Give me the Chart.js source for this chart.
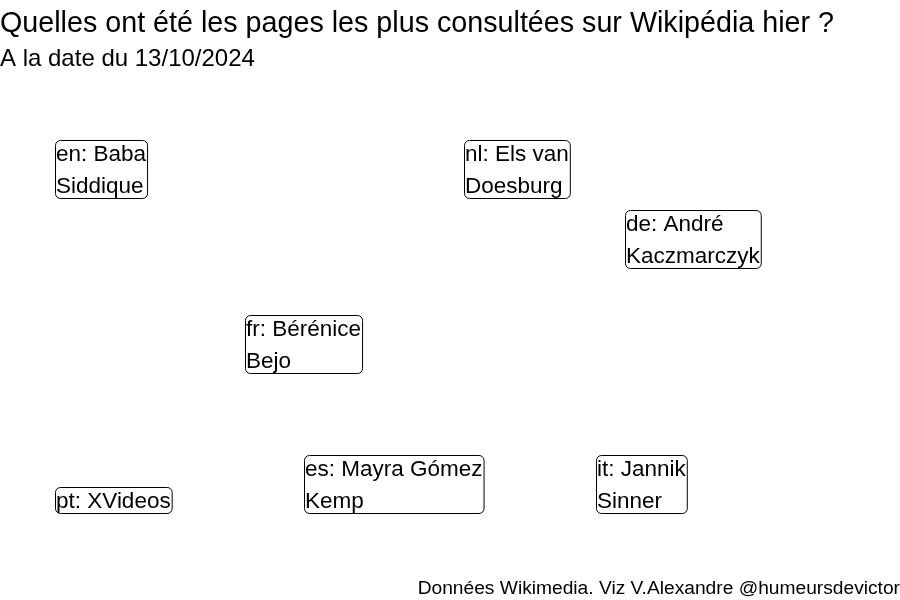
<!DOCTYPE html>
<html>
<head>
<meta charset="utf-8">
<script src="https://cdn.jsdelivr.net/npm/chart.js@4"></script>
<style>
  body { margin: 0; background: #fff; }
  #wrap { width: 900px; height: 600px; }
</style>
</head>
<body>
<div id="wrap"><canvas id="chart"></canvas></div>
<script>
// data (x = left edge of label, y = bottom of label)
const langs = ["en", "nl", "de", "fr", "es", "it", "pt"];
const labelLines = [
  ["en: Baba", "Siddique"],
  ["nl: Els van", "Doesburg"],
  ["de: André", "Kaczmarczyk"],
  ["fr: Bérénice", "Bejo"],
  ["es: Mayra Gómez", "Kemp"],
  ["it: Jannik", "Sinner"],
  ["pt: XVideos"]
];
const xPos = [6.1, 51.6, 69.4, 27.2, 33.8, 66.2, 6.1];
const yPos = [76.2, 76.2, 62.2, 41.1, 12.9, 12.9, 12.9];

const titleText = "Quelles ont été les pages les plus consultées sur Wikipédia hier ?";
const subtitleText = "A la date du 13/10/2024";
const captionText = "Données Wikimedia. Viz V.Alexandre @humeursdevictor";

const FONT = '"Liberation Sans", Arial, Helvetica, sans-serif';

// draws the boxed labels (like geom_label) anchored bottom-left at each point
const boxLabels = {
  id: "boxLabels",
  afterDatasetsDraw(chart) {
    const ctx = chart.ctx;
    const meta = chart.getDatasetMeta(0);
    ctx.save();
    ctx.font = "22.5px " + FONT;
    ctx.textBaseline = "alphabetic";
    ctx.textAlign = "left";
    meta.data.forEach((pt, i) => {
      const lines = labelLines[i];
      const w = Math.max(...lines.map(l => ctx.measureText(l).width)) + 2;
      const h = 26 + 32 * (lines.length - 1);
      const left = Math.round(pt.x) + 0.5;
      const top = Math.round(pt.y - h) + 0.5;
      ctx.beginPath();
      ctx.roundRect(left, top, w, h, 5);
      ctx.fillStyle = "#fff";
      ctx.fill();
      ctx.lineWidth = 1;
      ctx.strokeStyle = "#000";
      ctx.stroke();
      ctx.fillStyle = "#000";
      lines.forEach((l, j) => {
        ctx.fillText(l, left + 0.5, top + 20 + 32 * j);
      });
    });
    ctx.restore();
  }
};

new Chart(document.getElementById("chart"), {
  type: "scatter",
  data: {
    datasets: [{
      label: "pages",
      data: langs.map((l, i) => ({ x: xPos[i], y: yPos[i] })),
      pointRadius: 0,
      pointHoverRadius: 0
    }]
  },
  options: {
    responsive: true,
    maintainAspectRatio: false,
    animation: false,
    layout: { padding: { left: 0, right: 0, top: 7, bottom: 0 } },
    plugins: {
      legend: { display: false },
      tooltip: { enabled: false },
      title: {
        display: true,
        text: titleText,
        align: "start",
        color: "#000",
        font: { family: FONT, size: 28.7, weight: "normal" },
        padding: { top: 0, bottom: 3.5 }
      },
      subtitle: {
        display: true,
        text: subtitleText,
        align: "start",
        color: "#000",
        font: { family: FONT, size: 24, weight: "normal" },
        padding: { top: 0, bottom: 6.2 }
      }
    },
    scales: {
      x: {
        type: "linear",
        min: 0,
        max: 100,
        grid: { display: false, drawTicks: false },
        border: { display: false },
        ticks: { display: false },
        title: {
          display: true,
          text: captionText,
          align: "end",
          color: "#000",
          font: { family: FONT, size: 19.2, weight: "normal" },
          padding: { top: 0, bottom: 0 }
        }
      },
      y: {
        type: "linear",
        min: 0,
        max: 100,
        display: false
      }
    }
  },
  plugins: [boxLabels]
});
</script>
</body>
</html>
